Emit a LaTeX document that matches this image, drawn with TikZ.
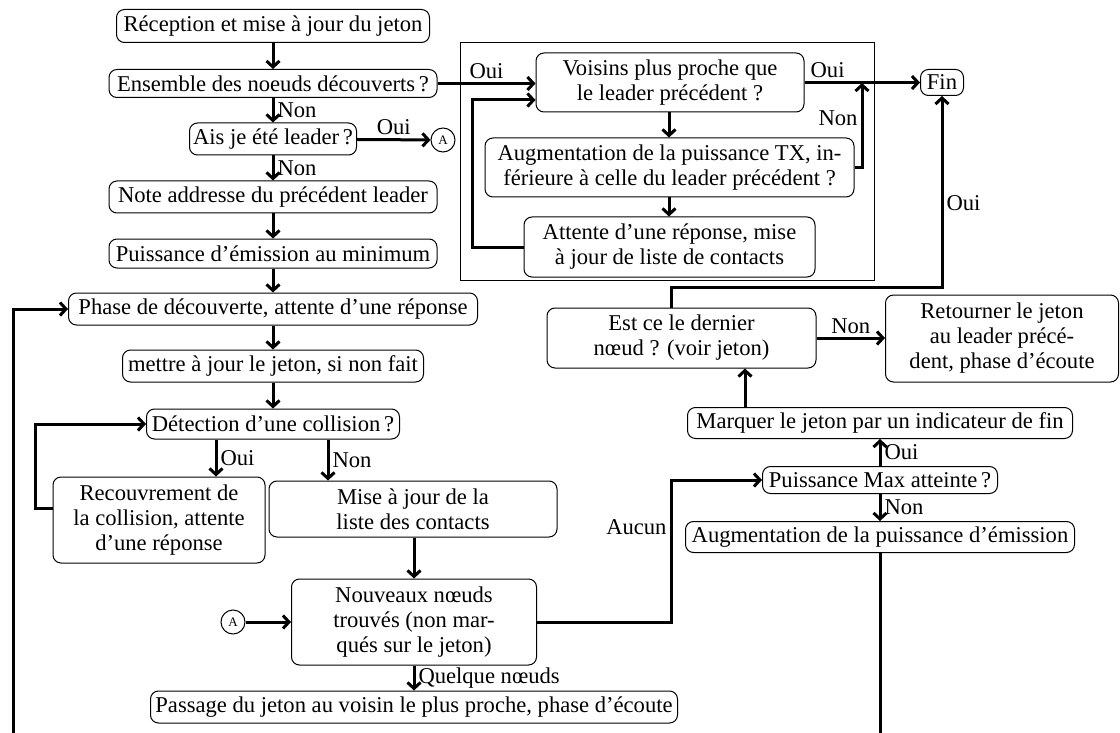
\documentclass[tikz,border=0pt]{standalone}
\usepackage{fontspec}
\setmainfont{Liberation Serif}
\usetikzlibrary{arrows.meta}
\newcommand\fsz{\fontsize{11.3}{12.5}\selectfont}
\begin{document}
\begin{tikzpicture}[x=0.5pt,y=-0.5pt,
 box/.style={draw,line width=0.5pt,rounded corners=4pt,inner sep=0.5pt,align=center,font=\fsz},
 wh/.style 2 args={minimum width=#1*0.5pt,minimum height=#2*0.5pt},
 lab/.style={font=\fsz,inner sep=1.5pt},
 conn/.style={line width=1.5pt,-{Straight Barb[length=3pt,width=6.5pt]}},
 plain/.style={line width=1.5pt},
 circ/.style={draw,circle,line width=0.5pt,minimum size=12pt,inner sep=0pt,font=\fontsize{6.5}{7}\selectfont}]
\useasboundingbox (0,0) rectangle (1120,733);
% left column
\node[box,wh={313}{33}] (r1) at (273,26) {Réception et mise à jour du jeton};
\node[box,wh={328}{28}] (r2) at (273,83.5) {Ensemble des noeuds découverts\,?};
\node[box,wh={167}{32}] (r3) at (273,139) {Ais je été leader\,?};
\node[box,wh={328}{32}] (r4) at (273,197) {Note addresse du précédent leader};
\node[box,wh={328}{29}] (r5) at (273,253.5) {Puissance d’émission au minimum};
\node[box,wh={409}{32}] (r6) at (273,309) {Phase de découverte, attente d’une réponse};
\node[box,wh={301}{32}] (r7) at (273,366) {mettre à jour le jeton, si non fait};
\node[box,wh={253}{30}] (r8) at (273,424) {Détection d’une collision\,?};
\node[box,wh={212}{86}] (r9) at (159,520) {Recouvrement de\\la collision, attente\\d’une réponse};
\node[box,wh={288}{56}] (r10) at (413,509) {Mise à jour de la\\liste des contacts};
\node[box,wh={245}{86}] (r11) at (414,622) {Nouveaux nœuds\\trouvés (non mar-\\qués sur le jeton)};
\node[box,wh={527}{32}] (r12) at (414,707) {Passage du jeton au voisin le plus proche, phase d’écoute};
\node[circ] (a1) at (443,140) {A};
\node[circ] (a2) at (233,622) {A};
% right part
\draw[line width=0.5pt] (460,43) rectangle (874,280);
\node[box,wh={268}{59}] (v1) at (670,82.5) {Voisins plus proche que\\le leader précédent~?};
\node[box,wh={369}{59}] (v2) at (669.5,167.5) {Augmentation de la puissance TX, in-\\férieure à celle du leader précédent~?};
\node[box,wh={291}{60}] (v3) at (669.5,247) {Attente d’une réponse, mise\\à jour de liste de contacts};
\node[box,wh={43}{26}] (fin) at (942,82.5) {Fin};
\node[box,wh={269}{60}] (e) at (681.5,338) {Est ce le dernier\\nœud ? (voir jeton)};
\node[box,wh={233}{87}] (ret) at (1002,338.5) {Retourner le jeton\\au leader précé-\\dent, phase d’écoute};
\node[box,wh={385}{31}] (mq) at (880,423) {Marquer le jeton par un indicateur de fin};
\node[box,wh={235}{27}] (mx) at (880,480) {Puissance Max atteinte\,?};
\node[box,wh={389}{31}] (aug) at (880,537) {Augmentation de la puissance d’émission};
% helper coordinates
\coordinate (xo) at (216,0);
\coordinate (xn) at (328,0);
\coordinate (xl) at (35,508);
\coordinate (bl) at (13,733);
\coordinate (xa) at (671,0);
\coordinate (xm) at (745,0);
\coordinate (xe) at (671,287);
\coordinate (xj) at (862,83);
\coordinate (xl2) at (472,100);
\coordinate (xv) at (669,0);
% left connectors
\draw[conn] (r1) -- (r2);
\draw[conn] (r2) -- node[lab,right]{Non} (r3);
\draw[conn] (r3) -- node[lab,right]{Non} (r4);
\draw[conn] (r3) -- node[lab,above]{Oui} (a1);
\draw[conn] (r4) -- (r5);
\draw[conn] (r5) -- (r6);
\draw[conn] (r6) -- (r7);
\draw[conn] (r7) -- (r8);
\draw[conn] (r8.south -| xo) -- node[lab,right]{Oui} (r9.north -| xo);
\draw[conn] (r8.south -| xn) -- node[lab,right]{Non} (r10.north -| xn);
\draw[conn] (r9.west |- xl) -- (xl) |- (r8.west);
\draw[conn] (bl) |- (r6.west);
\draw[conn] (r10.south -| r11.north) -- (r11.north);
\draw[conn] (r11.south) -- node[lab,right]{Quelque nœuds} (r11.south |- r12.north);
\draw[conn] (a2) -- (r11);
\draw[conn] (r11.east) -- (r11.east -| xa) -- node[lab,left,pos=0.67]{Aucun} (xa |- mx.west) -- (mx.west);
% right connectors
\draw[conn] (mx.north) -- node[lab,right]{Oui} (mx.north |- mq.south);
\draw[conn] (mx.south) -- node[lab,right]{Non} (mx.south |- aug.north);
\draw[plain] (aug.south) -- (aug.south |- bl);
\draw[conn] (mq.north -| xm) -- (e.south -| xm);
\draw[conn] (e.east) -- node[lab,above]{Non} (e.east -| ret.west);
\draw[conn] (e.north -| xe) -- (xe) -| node[lab,right,pos=0.72]{Oui} (fin.south);
\draw[conn] (r2.east) -- node[lab,above]{Oui} (r2.east -| v1.west);
\draw[conn] (v1.east) -- node[lab,above,pos=0.2]{Oui} (fin.west);
\draw[conn] (v1.south -| xv) -- (v2.north -| xv);
\draw[conn] (v2.south -| xv) -- (v3.north -| xv);
\draw[conn] (v2.east) -| node[lab,left,pos=0.79]{Non} (xj);
\draw[conn] (v3.west) -| (xl2) -- (xl2 -| v1.west);
\end{tikzpicture}
\end{document}
